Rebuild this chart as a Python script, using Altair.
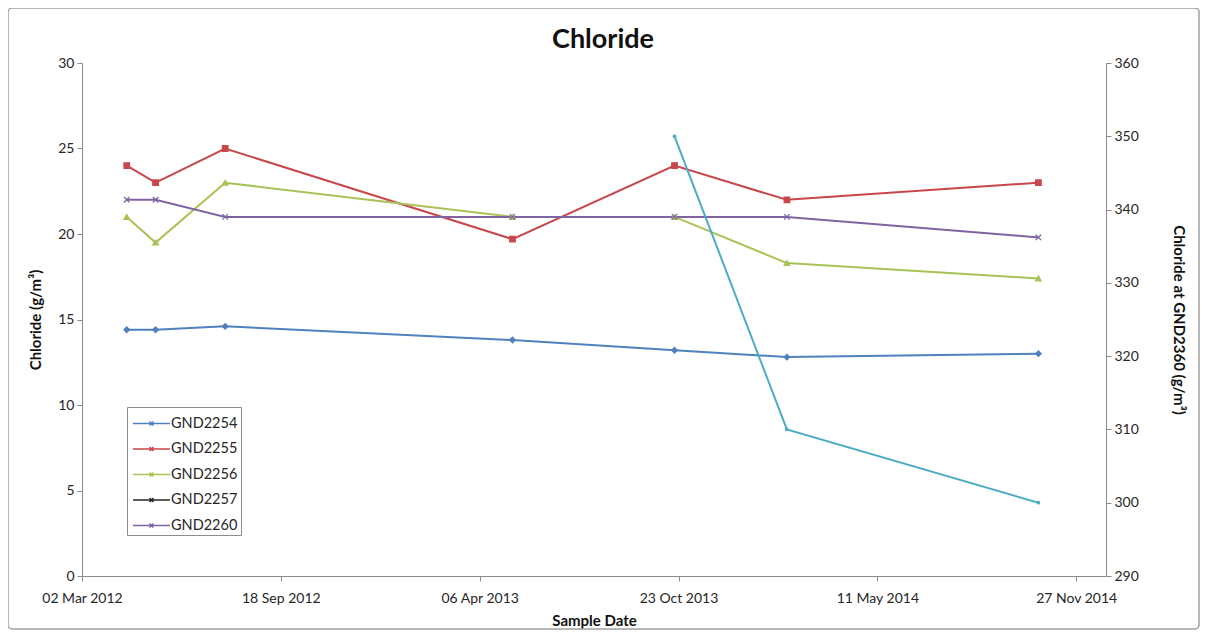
import altair as alt
import pandas as pd

# ---- data ----
dates = ["2012-04-16", "2012-05-15", "2012-07-24", "2013-05-09",
         "2013-10-19", "2014-02-09", "2014-10-20"]
gnd2254 = [14.4, 14.4, 14.6, 13.8, 13.2, 12.8, 13.0]
gnd2255 = [24.0, 23.0, 25.0, 19.7, 24.0, 22.0, 23.0]
gnd2256 = [21.0, 19.5, 23.0, 21.0, 21.0, 18.3, 17.4]
gnd2260 = [22.0, 22.0, 21.0, 21.0, 21.0, 21.0, 19.8]
gnd2360_dates = ["2013-10-19", "2014-02-09", "2014-10-20"]
gnd2360 = [350, 310, 300]

series_names = ["GND2254", "GND2255", "GND2256", "GND2257", "GND2260"]
series_colors = ["#4F81BD", "#C8474A", "#A8C256", "#262626", "#8064A2"]
marker_names = ["m2254", "m2255", "m2256", "m2257", "m2260"]
series_shapes = ["diamond", "square", "triangle-up", "circle",
                 "M-1,-1L1,1M-1,1L1,-1"]
cyan = "#4BACC6"

tick_dates = [(2012, 3, 2), (2012, 9, 18), (2013, 4, 6),
              (2013, 10, 23), (2014, 5, 11), (2014, 11, 27)]
x_domain = [(2012, 3, 2), (2014, 12, 27)]

rows = []
for name, mk, vals in [("GND2254", "m2254", gnd2254),
                       ("GND2255", "m2255", gnd2255),
                       ("GND2256", "m2256", gnd2256),
                       ("GND2260", "m2260", gnd2260)]:
    for d, v in zip(dates, vals):
        rows.append({"date": d, "value": v, "series": name, "marker": mk})
df = pd.DataFrame(rows)
df2 = pd.DataFrame({"date": gnd2360_dates, "value": gnd2360})

W, H = 1024, 513
FONT = "Lato"


def dt(t):
    return alt.DateTime(year=t[0], month=t[1], date=t[2], utc=True)


xenc = alt.X(
    "date:T",
    scale=alt.Scale(type="utc", domain=[dt(t) for t in x_domain]),
    axis=alt.Axis(values=[dt(t) for t in tick_dates], format="%d %b %Y",
                  title="Sample Date", grid=False, labelPadding=10,
                  labelFlush=False, titlePadding=8),
)

legend = alt.Legend(
    orient="none", legendX=45, legendY=344, title=None,
    strokeColor="#8c8c8c", fillColor="white", padding=3,
    symbolType="M-1.45,0L1.45,0M-0.15,-0.15L0.15,0.15M-0.15,0.15L0.15,-0.15",
    symbolSize=650, symbolStrokeWidth=1.5, symbolOffset=8,
    symbolFillColor="transparent",
    labelFontSize=14.5, labelFont=FONT, labelColor="#262626",
    rowPadding=5.5, labelOffset=6,
)

yleft = alt.Y("value:Q", scale=alt.Scale(domain=[0, 30]),
              axis=alt.Axis(values=[0, 5, 10, 15, 20, 25, 30], grid=False,
                            title="Chloride (g/m³)", titlePadding=14))

lines = alt.Chart(df).mark_line(strokeWidth=2).encode(
    x=xenc, y=yleft,
    color=alt.Color("series:N",
                    scale=alt.Scale(domain=series_names, range=series_colors),
                    legend=legend),
)

points = alt.Chart(df).mark_point(filled=True, size=30, opacity=1,
                                  strokeWidth=1.3).encode(
    x=xenc, y=yleft,
    fill=alt.Fill("marker:N",
                  scale=alt.Scale(domain=marker_names, range=series_colors),
                  legend=None),
    stroke=alt.Stroke("marker:N",
                      scale=alt.Scale(domain=marker_names, range=series_colors),
                      legend=None),
    shape=alt.Shape("marker:N",
                    scale=alt.Scale(domain=marker_names, range=series_shapes),
                    legend=None),
)

left = alt.layer(lines, points)

right = alt.Chart(df2).mark_line(
    color=cyan, strokeWidth=2,
    point=alt.OverlayMarkDef(filled=True, size=14, color=cyan),
).encode(
    x=xenc,
    y=alt.Y("value:Q", scale=alt.Scale(domain=[290, 360]),
            axis=alt.Axis(orient="right",
                          values=[290, 300, 310, 320, 330, 340, 350, 360],
                          grid=False, title="Chloride at GND2360 (g/m³)",
                          titlePadding=32)),
)

deco = alt.Chart(pd.DataFrame({"a": [0]}))

border = deco.mark_rect(
    fillOpacity=0, stroke="#a0a0a0", strokeWidth=1.5, cornerRadius=4
).encode(
    x=alt.value(-74), x2=alt.value(W + 93),
    y=alt.value(-55), y2=alt.value(H + 53),
)

title = deco.mark_text(
    text="Chloride", font=FONT, fontSize=27, fontWeight="bold",
    color="#111111", align="center", baseline="middle",
).encode(x=alt.value(W / 2 + 9), y=alt.value(-23))

chart = alt.layer(left, right, border, title).resolve_scale(
    y="independent"
).properties(
    width=W, height=H,
    autosize=alt.AutoSizeParams(type="none"),
    padding={"left": 74, "top": 55, "right": 95, "bottom": 55},
    background="white",
).configure_view(
    strokeOpacity=0
).configure_axis(
    labelFont=FONT, labelFontSize=14, labelColor="#262626",
    titleFont=FONT, titleFontSize=15, titleFontWeight="bold",
    titleColor="#111111",
    domainColor="#8a8a8a", tickColor="#8a8a8a", tickSize=5,
    labelPadding=3,
)

chart.save("out.html", embed_options={"renderer": "svg", "actions": False})
